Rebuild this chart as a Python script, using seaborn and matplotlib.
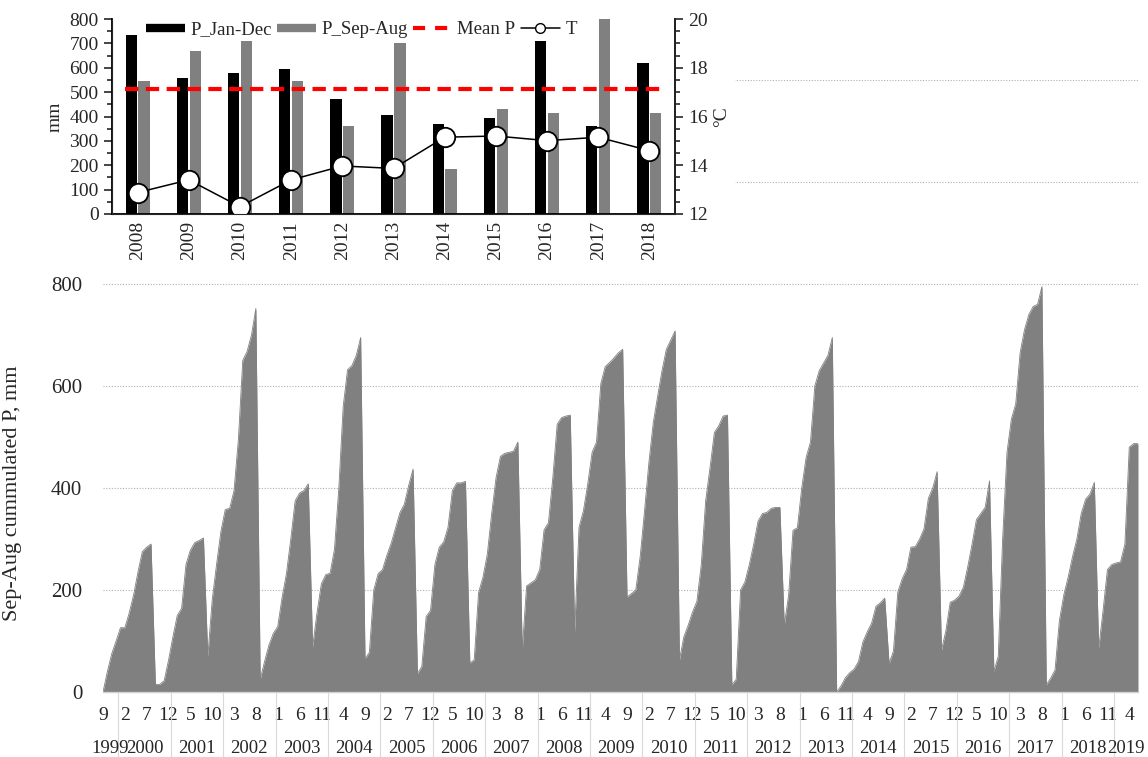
import numpy as np
import pandas as pd
import matplotlib
matplotlib.use("Agg")
import matplotlib.pyplot as plt
import matplotlib.transforms as mtransforms
from matplotlib.lines import Line2D
from matplotlib.patches import Rectangle
import seaborn as sns

# Sep-Aug cumulated precipitation (mm), monthly from Sep 1999 to Jun 2019
cum_p = [
    0, 40, 75, 100, 126, 126, 155, 190, 235, 275, 284, 290,        # 1999-2000
    15, 15, 22, 62, 108, 150, 164, 250, 278, 293, 297, 302,        # 2000-2001
    69, 180, 250, 315, 358, 360, 395, 495, 650, 668, 700, 752,     # 2001-2002
    25, 60, 92, 115, 128, 185, 232, 300, 375, 390, 395, 408,       # 2002-2003
    88, 155, 212, 230, 233, 280, 400, 560, 632, 640, 660, 695,     # 2003-2004
    65, 78, 200, 232, 240, 268, 292, 322, 352, 368, 405, 437,      # 2004-2005
    36, 50, 148, 160, 250, 284, 294, 323, 395, 410, 410, 413,      # 2005-2006
    57, 63, 195, 225, 270, 350, 420, 462, 468, 470, 472, 490,      # 2006-2007
    82, 208, 214, 220, 240, 318, 332, 420, 525, 538, 541, 543,     # 2007-2008
    118, 323, 355, 408, 470, 490, 605, 638, 646, 655, 665, 672,    # 2008-2009
    186, 193, 200, 265, 355, 450, 528, 580, 630, 672, 690, 708,    # 2009-2010
    63, 108, 131, 157, 178, 250, 375, 440, 509, 522, 541, 543,     # 2010-2011
    14, 25, 200, 216, 250, 290, 335, 350, 352, 360, 362, 362,      # 2011-2012
    131, 190, 317, 322, 400, 460, 490, 600, 630, 645, 660, 695,    # 2012-2013
    0, 12, 28, 38, 45, 60, 98, 118, 135, 168, 175, 184,            # 2013-2014
    56, 80, 196, 222, 240, 284, 285, 300, 320, 380, 400, 432,      # 2014-2015
    82, 120, 176, 180, 188, 205, 245, 290, 338, 350, 362, 414,     # 2015-2016
    40, 70, 300, 470, 535, 565, 665, 710, 740, 756, 760, 795,      # 2016-2017
    14, 27, 43, 140, 190, 225, 265, 300, 350, 378, 388, 411,       # 2017-2018
    85, 160, 240, 250, 253, 255, 290, 480, 487, 487,               # 2018-2019
]
dates = pd.date_range("1999-09-01", periods=len(cum_p), freq="MS")

# inset: annual values
years = [2008, 2009, 2010, 2011, 2012, 2013, 2014, 2015, 2016, 2017, 2018]
p_jan_dec = [735, 558, 577, 596, 470, 405, 368, 393, 709, 361, 621]
p_sep_aug = [546, 670, 709, 546, 361, 700, 185, 431, 413, 800, 413]
t_mean = [12.88, 13.40, 12.30, 13.40, 13.97, 13.87, 15.15, 15.20, 15.01, 15.15, 14.60]
mean_p = 514

sns.set_style("white")
plt.rcParams["font.family"] = ["Liberation Serif", "DejaVu Serif"]

W, H = 1148, 757
fig = plt.figure(figsize=(W / 100, H / 100), dpi=100)

# ---------------- main area chart ----------------
ax = fig.add_axes([103 / W, 1 - 692 / H, (1138 - 103) / W, (692 - 80) / H])
x = np.arange(len(cum_p))
df_main = pd.DataFrame({"i": x, "P": cum_p})
ax.fill_between(df_main["i"], df_main["P"], color="#808080", lw=0, zorder=2)
sns.lineplot(data=df_main, x="i", y="P", ax=ax, color="#808080", lw=0.6, zorder=2)
ax.set_xlim(0, len(cum_p) - 1)
ax.set_ylim(0, 1200)
yt = list(range(0, 1201, 200))
ax.set_yticks(yt)
# 1000 and 1200 sit behind the inset in the original
ax.set_yticklabels([str(v) if v <= 800 else "" for v in yt])
ax.grid(axis="y", ls=(0, (1, 1.5)), color="#b0b0b0", lw=0.8, zorder=0)
ax.grid(axis="x", visible=False)
for s in ["left", "top", "right"]:
    ax.spines[s].set_visible(False)
ax.spines["bottom"].set_color("#d0d0d0")
ax.spines["bottom"].set_linewidth(1.0)
ax.set_xlabel("")
ax.set_ylabel("Sep-Aug cummulated P, mm", fontsize=16)
ax.yaxis.set_label_coords(-0.078, 0.325)
ax.tick_params(axis="y", length=0, pad=15, labelsize=15)

# month labels every 5 months, thin grey tick for every month
ax.set_xticks(x[::5])
ax.set_xticklabels([str(d.month) for d in dates[::5]], fontsize=14)
ax.set_xticks(x, minor=True)
ax.tick_params(axis="x", which="both", length=25, color="#d9d9d9", width=0.8, direction="out")
ax.tick_params(axis="x", which="major", pad=-14)

# year groups
trans = mtransforms.blended_transform_factory(ax.transData, ax.transAxes)
yr = pd.Series(dates.year)
for y_, grp in yr.groupby(yr):
    lo, hi = grp.index.min() - 0.5, grp.index.max() + 0.5
    ax.text((max(lo, 0) + min(hi, len(cum_p) - 1)) / 2, -0.092, str(y_), transform=trans,
            ha="center", va="center", fontsize=13.5)
    if lo > 0:
        ax.add_line(Line2D([lo, lo], [0, -0.107], transform=trans, color="#d9d9d9",
                           lw=0.8, clip_on=False))

# white box that hides the top of the main chart behind the inset
fig.patches.append(Rectangle((0, 1 - 265 / H), 735 / W, 265 / H, transform=fig.transFigure,
                             facecolor="white", edgecolor="none", zorder=1))

# ---------------- inset ----------------
axi = fig.add_axes([112 / W, 1 - 214 / H, (675 - 112) / W, (214 - 19) / H])
axi.set_zorder(2)
axi.patch.set_alpha(0)
df_bar = pd.DataFrame({
    "year": years * 2,
    "P": p_jan_dec + p_sep_aug,
    "series": ["P_Jan-Dec"] * len(years) + ["P_Sep-Aug"] * len(years),
})
sns.barplot(data=df_bar, x="year", y="P", hue="series", palette=["black", "#808080"],
            width=0.5, gap=0.12, saturation=1, ax=axi, legend=False, linewidth=0)
axi.plot([-0.25, len(years) - 1 + 0.25], [mean_p, mean_p], color="#ff0000",
         ls=(0, (3.2, 1.8)), lw=3, zorder=3)
axi.set_xlim(-0.5, len(years) - 0.5)
axi.set_ylim(0, 800)
axi.set_yticks(range(0, 801, 100))
axi.set_yticks(range(50, 800, 100), minor=True)
axi.set_xlabel("")
axi.set_ylabel("mm", fontsize=14, labelpad=4)
axi.tick_params(axis="y", which="major", length=6, width=1.2, labelsize=14, direction="out", left=True)
axi.tick_params(axis="y", which="minor", length=3.5, width=1.2, direction="out", left=True)
axi.tick_params(axis="x", length=0, labelsize=14, labelrotation=90, pad=5)
axi.spines["top"].set_visible(False)
for s in ["left", "bottom", "right"]:
    axi.spines[s].set_linewidth(1.3)
    axi.spines[s].set_color("black")

ax2 = axi.twinx()
ax2.set_zorder(3)
sns.lineplot(x=np.arange(len(years)), y=t_mean, ax=ax2, color="black", lw=1.1,
             marker="o", markersize=14, markerfacecolor="white",
             markeredgecolor="black", markeredgewidth=1.3)
ax2.set_ylim(12, 20)
ax2.set_yticks(range(12, 21, 2))
ax2.set_yticks(np.arange(12.5, 20, 0.5), minor=True)
ax2.set_ylabel("°C", fontsize=14, labelpad=4)
ax2.tick_params(axis="y", which="major", length=6, width=1.2, labelsize=14, direction="out", right=True)
ax2.tick_params(axis="y", which="minor", length=3.5, width=1.2, direction="out", right=True)
ax2.spines["top"].set_visible(False)
ax2.spines["right"].set_linewidth(1.3)

handles = [
    Line2D([], [], color="black", lw=6, solid_capstyle="butt"),
    Line2D([], [], color="#808080", lw=6, solid_capstyle="butt"),
    Line2D([], [], color="#ff0000", ls=(0, (2.9, 2.4)), lw=3),
    Line2D([], [], color="black", lw=1.1, marker="o", markersize=7,
           markerfacecolor="white", markeredgecolor="black"),
]
ax2.legend(handles, ["P_Jan-Dec", "P_Sep-Aug", "Mean P", "T"], ncol=4, loc="center",
           bbox_to_anchor=(0.443, 0.945), frameon=False, fontsize=13.5, handlelength=2.05,
           handletextpad=0.3, columnspacing=0.3, borderpad=0)

fig.savefig("out.png", dpi=100)
